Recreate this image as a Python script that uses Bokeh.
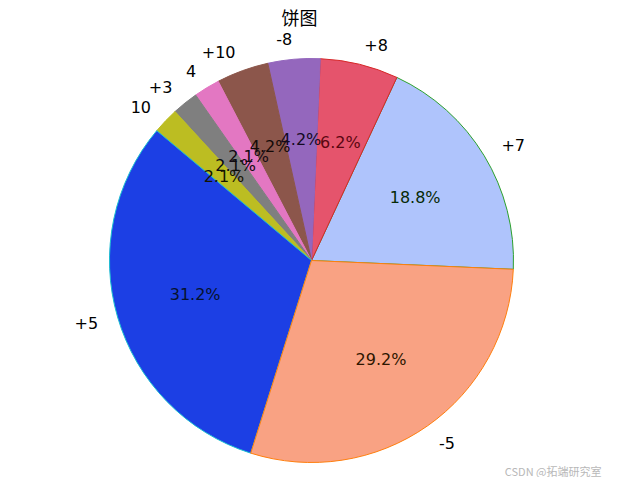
import numpy as np
from bokeh.plotting import figure
from bokeh.models import Range1d, ColumnDataSource
from bokeh.core.properties import value
from bokeh.embed import file_html
from bokeh.resources import INLINE

labels = ["+7", "+8", "-8", "+10", "4", "+3", "10", "+5", "-5"]
counts = [9, 3, 2, 2, 1, 1, 1, 15, 14]
fill_colors = ["#afc4fc", "#e5546c", "#9467bd", "#8c564b", "#e377c2",
               "#7f7f7f", "#bcbd22", "#1c3fe4", "#f9a283"]
edge_colors = ["#2ca02c", "#d62728", "#9467bd", "#8c564b", "#e377c2",
               "#7f7f7f", "#bcbd22", "#17becf", "#ff7f0e"]
pct_colors = ["#062a06", "#5a0610", "#140a22", "#140a08", "#140a14",
              "#0c0c0c", "#141400", "#06122e", "#2e1600"]
title_text = "饼图"
watermark = "CSDN @拓端研究室"

W, H = 602, 477
R = 202.0
cx_img, cy_img = 311.0, 260.0


def to_data(ix, iy):
    return (ix - cx_img) / R, (cy_img - iy) / R


x0, y0 = to_data(0, 0)
x1, y1 = to_data(W, H)

p = figure(width=W, height=H, output_backend="svg", toolbar_location=None,
           min_border=0, x_range=Range1d(x0, x1), y_range=Range1d(y1, y0))
p.axis.visible = False
p.grid.visible = False
p.outline_line_color = None
p.background_fill_color = "white"

vals = np.array(counts, dtype=float)
frac = vals / vals.sum()
start_deg = -2.5
ends = np.cumsum(frac) * 2 * np.pi + np.deg2rad(start_deg)
starts = ends - frac * 2 * np.pi
mids = (starts + ends) / 2

src = ColumnDataSource(dict(start=starts, end=ends, fill=fill_colors, edge=edge_colors))
p.wedge(x=0, y=0, radius=1.0, start_angle="start", end_angle="end",
        fill_color="fill", line_color="edge", line_width=1, source=src)

lx = 1.1 * np.cos(mids)
ly = 1.1 * np.sin(mids)
align = ["left" if x > 0 else "right" for x in lx]
lsrc = ColumnDataSource(dict(x=lx, y=ly, t=labels, a=align))
p.text(x="x", y="y", text="t", text_align="a", text_baseline="middle",
       text_font=value("DejaVu Sans"), text_font_size="16px", text_color="black",
       source=lsrc)

pct = ["%.1f%%" % (f * 100) for f in frac]
px = 0.6 * np.cos(mids)
py = 0.6 * np.sin(mids)
psrc = ColumnDataSource(dict(x=px, y=py, t=pct, c=pct_colors))
p.text(x="x", y="y", text="t", text_align="center", text_baseline="middle",
       text_font=value("DejaVu Sans"), text_font_size="16px", text_color="c",
       source=psrc)

tx, ty = to_data(299, 16)
p.text(x=[tx], y=[ty], text=[title_text], text_align="center", text_baseline="middle",
       text_font=value("Noto Sans CJK SC"), text_font_size="18px", text_color="black")

wx, wy = to_data(601, 470)
p.text(x=[wx], y=[wy], text=[watermark], text_align="right", text_baseline="middle",
       text_font=value("Noto Sans CJK SC"), text_font_size="11px", text_color="#b8b8b8")

open("out.html", "w").write(file_html(p, INLINE))
